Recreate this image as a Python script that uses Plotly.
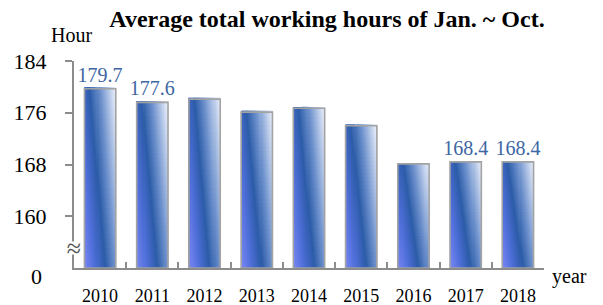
import plotly.graph_objects as go
import numpy as np

years = ["2010", "2011", "2012", "2013", "2014", "2015", "2016", "2017", "2018"]
hours = [179.7, 177.6, 178.1, 176.1, 176.7, 174.0, 168.1, 168.4, 168.4]
labels = ["179.7", "177.6", "", "", "", "", "", "168.4", "168.4"]
y_ticks = [160, 168, 176, 184]
y_ticktext = ["160", "168", "176", "184"]
axis_floor = 152  # drawn as "0" with a break symbol

FONT = "Liberation Serif, Times New Roman, serif"
BAR_W = 0.6
NC, NR = 30, 36

# diagonal gradient stops (s = xfrac + 0.5*yfrac)
stops = [(0.0, (0x7A, 0x88, 0xF6)), (0.35, (0x4E, 0x6E, 0xD8)), (0.68, (0x2C, 0x5C, 0xA8)),
         (1.0, (0x6C, 0x90, 0xCC)), (1.5, (0xE8, 0xEE, 0xFA))]


def grad(s):
    for (s0, c0), (s1, c1) in zip(stops[:-1], stops[1:]):
        if s <= s1:
            t = (s - s0) / (s1 - s0)
            c = [round(a + (b - a) * t) for a, b in zip(c0, c1)]
            return f"rgb({c[0]},{c[1]},{c[2]})"
    c = stops[-1][1]
    return f"rgb({c[0]},{c[1]},{c[2]})"


fig = go.Figure()
vals = np.array(hours) - axis_floor
for i in range(NC):
    xs, ys, bases, cols = [], [], [], []
    for j in range(NR):
        col = grad((i + 0.5) / NC + 0.5 * (j + 0.5) / NR)
        for k, yr in enumerate(years):
            xs.append(yr)
            ys.append(vals[k] / NR * 1.3)
            bases.append(axis_floor + vals[k] * j / NR)
            cols.append(col)
    fig.add_trace(go.Bar(x=xs, y=ys, base=bases, width=BAR_W / NC * 1.3,
                         offset=-BAR_W / 2 + i * BAR_W / NC,
                         marker=dict(color=cols, line=dict(width=0)),
                         hoverinfo="skip", showlegend=False))

fig.add_trace(go.Bar(x=years, y=list(vals), base=axis_floor, width=BAR_W, offset=-BAR_W / 2,
                     marker=dict(color="rgba(0,0,0,0)", line=dict(color="#a3a3a3", width=1.6)),
                     text=labels, textposition="outside", cliponaxis=False, constraintext="none",
                     textfont=dict(family=FONT, size=20, color="#3d66a3"),
                     hoverinfo="skip", showlegend=False))

fig.update_layout(
    width=603, height=305, barmode="overlay",
    margin=dict(l=74, r=59, t=61, b=37, autoexpand=False),
    plot_bgcolor="white", paper_bgcolor="white",
    font=dict(family=FONT, color="black"),
    title=dict(text="<b>Average total working hours of Jan. ~ Oct.</b>",
               x=327 / 603, xanchor="center", y=1 - 19 / 305, yanchor="middle",
               font=dict(family=FONT, size=24, color="black")),
    xaxis=dict(type="category", showline=True, linecolor="#8c8c8c", linewidth=2,
               ticks="inside", tickson="boundaries", ticklen=6, tickcolor="#8c8c8c", tickwidth=1.5,
               tickfont=dict(family=FONT, size=18, color="black"), ticklabelstandoff=10,
               showgrid=False, zeroline=False, automargin=False),
    yaxis=dict(range=[axis_floor, 184], showline=True, linecolor="#8c8c8c", linewidth=2,
               ticks="outside", ticklen=7, tickcolor="#8c8c8c", tickwidth=1.5,
               tickvals=y_ticks, ticktext=y_ticktext,
               tickfont=dict(family=FONT, size=22, color="black"), ticklabelstandoff=14,
               showgrid=False, zeroline=False, automargin=False),
    annotations=[
        dict(text="Hour", xref="paper", yref="paper", x=(71 - 74) / 470, y=1 + (61 - 35) / 207,
             showarrow=False, font=dict(family=FONT, size=20), xanchor="center", yanchor="middle"),
        dict(text="year", xref="paper", yref="paper", x=1 + (569 - 544) / 470, y=-(276 - 268) / 207,
             showarrow=False, font=dict(family=FONT, size=20), xanchor="center", yanchor="middle"),
        dict(text="0", xref="paper", yref="paper", x=-(74 - 44) / 470, y=-(276 - 268) / 207,
             showarrow=False, font=dict(family=FONT, size=22), xanchor="right", yanchor="middle"),
        dict(text="≈", xref="paper", yref="paper", x=0, y=(268 - 248) / 207,
             showarrow=False, font=dict(family=FONT, size=26, color="#555"), bgcolor="white",
             xanchor="center", yanchor="middle", borderpad=0, height=12, width=16),
    ],
)

fig.write_html("out.html", config={"displayModeBar": False},
               post_script="document.body.style.margin='0';")
